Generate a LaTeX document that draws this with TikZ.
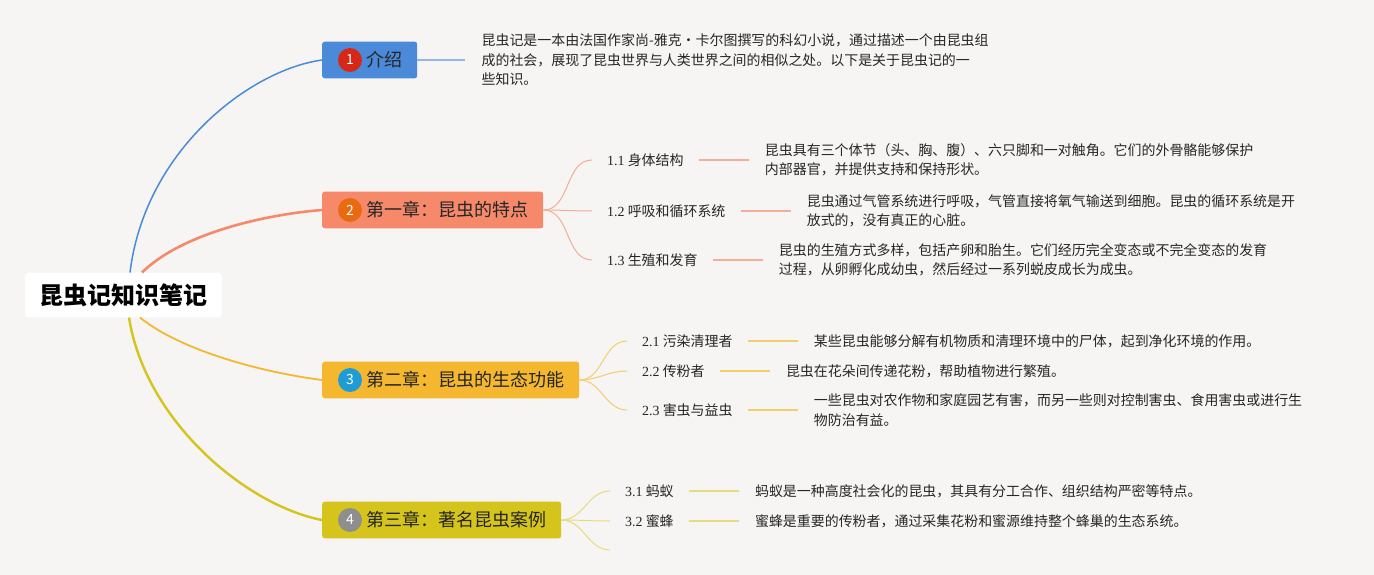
\documentclass[tikz,border=0pt]{standalone}
\usepackage{fontspec}
\setmainfont{Noto Sans CJK SC}
\newfontfamily\numfont{Liberation Serif}
\usepackage{tikz}
\usetikzlibrary{calc}
\usetikzlibrary{positioning}
\definecolor{bg}{HTML}{F6F5F4}
\definecolor{txt}{HTML}{262626}
\definecolor{blueA}{HTML}{4A8AD9}
\definecolor{blueL}{HTML}{95B5E2}
\definecolor{redB}{HTML}{D62718}
\definecolor{orangeA}{HTML}{F5896A}
\definecolor{orangeL}{HTML}{F3AE95}
\definecolor{orangeB}{HTML}{EA6A12}
\definecolor{yellowA}{HTML}{F4B72F}
\definecolor{yellowL}{HTML}{F5CD6C}
\definecolor{cyanB}{HTML}{1E9CD8}
\definecolor{oliveA}{HTML}{D5C41B}
\definecolor{oliveL}{HTML}{E6DB7E}
\definecolor{grayB}{HTML}{8E8E8E}
\tikzset{
  root/.style={fill=white, rounded corners=4pt, minimum width=197pt, minimum height=44.6pt,
    inner sep=0pt, font=\fontsize{24}{28}\selectfont\bfseries, text=black},
  chap/.style={anchor=west, rounded corners=2.5pt, minimum height=36.6pt, inner ysep=0pt,
    inner xsep=15pt, font=\fontsize{18}{22}\selectfont, text=txt},
  badge/.style={circle, minimum size=24pt, inner sep=0pt, text=white,
    font=\fontsize{14}{16}\selectfont},
  leaf/.style={anchor=west, inner sep=0pt, font=\fontsize{13.95}{19.4}\selectfont, text=txt},
  note/.style={leaf, align=left},
  fork/.style={line width=1pt},
  link/.style={line width=1.8pt, shorten <=15pt, shorten >=16pt},
}
\newcommand{\chaptext}[1]{\hspace*{29pt}#1}

\begin{document}
\begin{tikzpicture}[x=1pt, y=-1pt]
        \fill[bg] (0,0) rectangle (1374,575);
        \useasboundingbox (0,0) rectangle (1374,575);
        % root
        \node[root] (root) at (123.5,295) {昆虫记知识笔记};
        % chapters
        \node[chap, fill=blueA] (c1) at (322,60) {\chaptext{介绍}};
        \node[chap, fill=orangeA] (c2) at (322,210) {\chaptext{第一章：昆虫的特点}};
        \node[chap, fill=yellowA] (c3) at (322,380) {\chaptext{第二章：昆虫的生态功能}};
        \node[chap, fill=oliveA] (c4) at (322,520) {\chaptext{第三章：著名昆虫案例}};
        \node[badge, fill=redB] (b1) at ([xshift=28pt]c1.west) {1};
        \node[badge, fill=orangeB] (b2) at ([xshift=28pt]c2.west) {2};
        \node[badge, fill=cyanB] (b3) at ([xshift=28pt]c3.west) {3};
        \node[badge, fill=grayB] (b4) at ([xshift=28pt]c4.west) {4};
        % main branches
        \draw[blueA, line width=1.5pt] ([xshift=6.5pt]root.north) .. controls (145,150) and (250,70) .. (c1.west);
        \draw[orangeA, line width=2.6pt] ([xshift=18.5pt]root.north) .. controls (180,235) and (260,215) .. (c2.west);
        \draw[yellowA, line width=1.8pt] ([xshift=16.5pt]root.south) .. controls (180,350) and (260,372) .. (c3.west);
        \draw[oliveA, line width=2.4pt] ([xshift=5.5pt]root.south) .. controls (145,420) and (245,505) .. (c4.west);
        % chapter 1
        \node[note, right=64pt of c1] (d0) {昆虫记是一本由法国作家尚-雅克·卡尔图撰写的科幻小说，通过描述一个由昆虫组\\成的社会，展现了昆虫世界与人类世界之间的相似之处。以下是关于昆虫记的一\\些知识。};
        \draw[blueL, line width=1.8pt, shorten >=16pt] (c1.east) -- (c1.east -| d0.west);
        % chapter 2
        \node[leaf] (l11) at (607,160) {{\numfont 1.1} 身体结构};
        \node[leaf] (l12) at (607,211) {{\numfont 1.2} 呼吸和循环系统};
        \node[leaf] (l13) at (607,260) {{\numfont 1.3} 生殖和发育};
        \node[note, right=81pt of l11] (d11) {昆虫具有三个体节（头、胸、腹）、六只脚和一对触角。它们的外骨骼能够保护\\内部器官，并提供支持和保持形状。};
        \node[note, right=81pt of l12] (d12) {昆虫通过气管系统进行呼吸，气管直接将氧气输送到细胞。昆虫的循环系统是开\\放式的，没有真正的心脏。};
        \node[note, right=81pt of l13] (d13) {昆虫的生殖方式多样，包括产卵和胎生。它们经历完全变态或不完全变态的发育\\过程，从卵孵化成幼虫，然后经过一系列蜕皮成长为成虫。};
        \foreach \n in {l11,l12,l13} {
            \draw[orangeL, fork] (c2.east) to[out=0, in=180] ([xshift=-15pt]\n.west);
        }
        \draw[orangeL, link] (l11.east) -- (l11.east -| d11.west);
        \draw[orangeL, link] (l12.east) -- (l12.east -| d12.west);
        \draw[orangeL, link] (l13.east) -- (l13.east -| d13.west);
        % chapter 3
        \node[leaf] (l21) at (642,341) {{\numfont 2.1} 污染清理者};
        \node[leaf] (l22) at (642,371) {{\numfont 2.2} 传粉者};
        \node[leaf] (l23) at (642,410) {{\numfont 2.3} 害虫与益虫};
        \node[note, right=81pt of l21] (d21) {某些昆虫能够分解有机物质和清理环境中的尸体，起到净化环境的作用。};
        \node[note, right=81pt of l22] (d22) {昆虫在花朵间传递花粉，帮助植物进行繁殖。};
        \node[note, right=81pt of l23] (d23) {一些昆虫对农作物和家庭园艺有害，而另一些则对控制害虫、食用害虫或进行生\\物防治有益。};
        \foreach \n in {l21,l22,l23} {
            \draw[yellowL, fork] (c3.east) to[out=0, in=180] ([xshift=-15pt]\n.west);
        }
        \draw[yellowL, link] (l21.east) -- (l21.east -| d21.west);
        \draw[yellowL, link] (l22.east) -- (l22.east -| d22.west);
        \draw[yellowL, link] (l23.east) -- (l23.east -| d23.west);
        % chapter 4
        \node[leaf] (l31) at (625,491) {{\numfont 3.1} 蚂蚁};
        \node[leaf] (l32) at (625,521) {{\numfont 3.2} 蜜蜂};
        \coordinate (l33) at (625,550);
        \node[note, right=81pt of l31] (d31) {蚂蚁是一种高度社会化的昆虫，其具有分工合作、组织结构严密等特点。};
        \node[note, right=81pt of l32] (d32) {蜜蜂是重要的传粉者，通过采集花粉和蜜源维持整个蜂巢的生态系统。};
        \foreach \n in {l31,l32,l33} {
            \draw[oliveL, fork] (c4.east) to[out=0, in=180] ([xshift=-15pt]\n.west);
        }
        \draw[oliveL, link] (l31.east) -- (l31.east -| d31.west);
        \draw[oliveL, link] (l32.east) -- (l32.east -| d32.west);
    \end{tikzpicture}
\end{document}
